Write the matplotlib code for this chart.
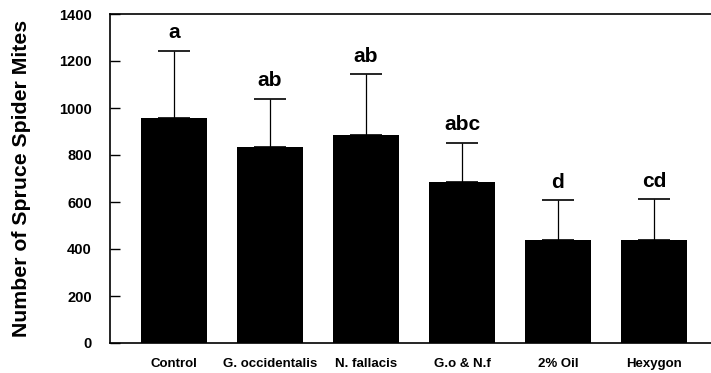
import matplotlib
matplotlib.use("Agg")
import matplotlib.pyplot as plt
import numpy as np

# ---------------------------
# Data
# ---------------------------
treatments = ["Control", "G. occidentalis", "N. fallacis", "G.o & N.f", "2% Oil", "Hexygon"]
mean_mites = [956, 833, 886, 686, 437, 437]
se_mites = [288, 207, 257, 166, 171, 174]
letters = ["a", "ab", "ab", "abc", "d", "cd"]
yticks = [0, 200, 400, 600, 800, 1000, 1200, 1400]

plt.rcParams["font.family"] = ["Liberation Sans", "DejaVu Sans"]
plt.rcParams["font.weight"] = "bold"

fig = plt.figure(figsize=(7.11, 3.73), dpi=100)
ax = fig.add_axes([110 / 711, 30 / 373, 601 / 711, 329 / 373])

x = np.arange(len(treatments))
ax.bar(x, mean_mites, width=0.68, color="black", zorder=2)
ax.errorbar(
    x, mean_mites,
    yerr=[np.zeros(len(se_mites)), se_mites],
    fmt="none", ecolor="black", elinewidth=0.9,
    capsize=11.5, capthick=1.2, zorder=1
)

# significance letters above the error bars
for xi, m, s, lab in zip(x, mean_mites, se_mites, letters):
    ax.annotate(
        lab, xy=(xi, m + s), xytext=(0, 6), textcoords="offset points",
        ha="center", va="bottom", fontsize=15, fontweight="bold"
    )

ax.set_xlim(-0.667, 5.595)
ax.set_ylim(0, 1400)
ax.set_yticks(yticks)
ax.set_xticks(x)
ax.set_xticklabels(treatments, fontsize=9.5, fontweight="bold")
ax.tick_params(axis="x", length=0, pad=11)
ax.tick_params(axis="y", direction="in", length=7, width=1, pad=13, labelsize=10.5)
for lbl in ax.get_yticklabels():
    lbl.set_fontweight("bold")

ax.spines["right"].set_visible(False)
for side in ("left", "bottom", "top"):
    ax.spines[side].set_linewidth(1.2)

ax.set_ylabel("Number of Spruce Spider Mites", fontsize=15.3, fontweight="bold", labelpad=20)

fig.savefig("out.png", dpi=100)
